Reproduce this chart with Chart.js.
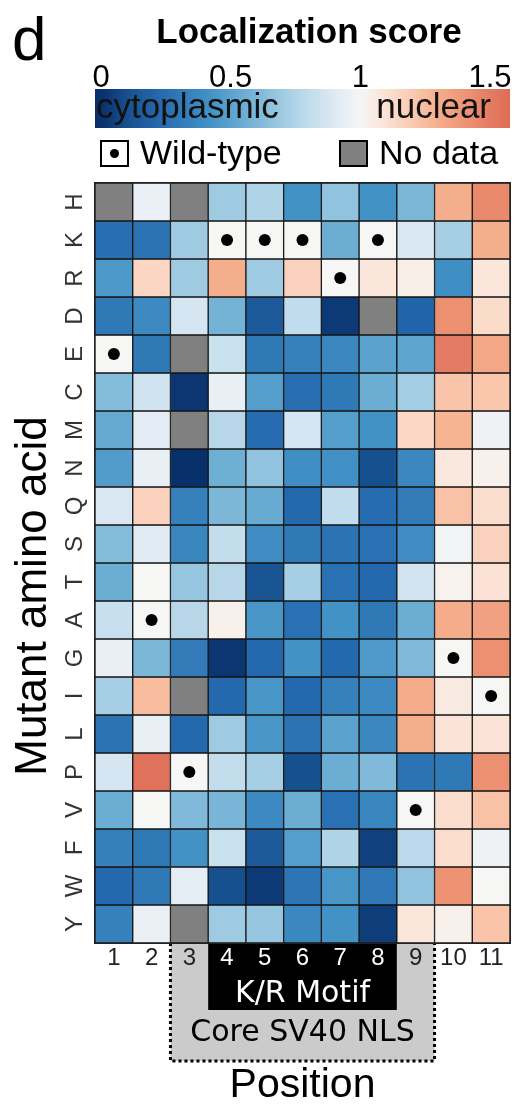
<!DOCTYPE html>
<html lang="en">
<head>
<meta charset="UTF-8">
<title>Localization score</title>
<script src="https://cdn.jsdelivr.net/npm/chart.js"></script>
<style>
  html, body { margin: 0; padding: 0; background: #fff; }
  #wrap { position: relative; width: 516px; height: 1104px; }
</style>
</head>
<body>
<div id="wrap"><canvas id="heatmap"></canvas></div>
<script>
// positions in the NLS and mutant amino acids, top to bottom
const positions = ['1', '2', '3', '4', '5', '6', '7', '8', '9', '10', '11'];
const aminoAcids = ['H', 'K', 'R', 'D', 'E', 'C', 'M', 'N', 'Q', 'S', 'T', 'A', 'G', 'I', 'L', 'P', 'V', 'F', 'W', 'Y'];

// localization score per position (null = no data, wild-type = 1)
const scoreH = [null, 0.95, null, 0.70, 0.75, 0.42, 0.66, 0.42, 0.60, 1.30, 1.45];
const scoreK = [0.25, 0.27, 0.70, 1, 1, 1, 0.55, 1, 0.88, 0.72, 1.30];
const scoreR = [0.45, 1.15, 0.70, 1.30, 0.70, 1.17, 1, 1.08, 1.04, 0.40, 1.08];
const scoreD = [0.30, 0.38, 0.87, 0.58, 0.15, 0.80, 0.03, null, 0.20, 1.42, 1.13];
const scoreE = [1, 0.30, null, 0.83, 0.30, 0.34, 0.37, 0.50, 0.51, 1.50, 1.33];
const scoreC = [0.62, 0.85, 0.02, 0.94, 0.48, 0.25, 0.30, 0.55, 0.71, 1.22, 1.21];
const scoreM = [0.53, 0.92, null, 0.77, 0.24, 0.87, 0.48, 0.42, 1.14, 1.28, 0.97];
const scoreN = [0.47, 0.94, 0.00, 0.56, 0.66, 0.40, 0.41, 0.10, 0.37, 1.07, 1.03];
const scoreQ = [0.88, 1.17, 0.34, 0.60, 0.54, 0.22, 0.80, 0.24, 0.31, 1.23, 1.12];
const scoreS = [0.62, 0.91, 0.36, 0.81, 0.39, 0.30, 0.27, 0.26, 0.39, 0.98, 1.17];
const scoreT = [0.55, 1.00, 0.67, 0.77, 0.12, 0.72, 0.26, 0.22, 0.86, 1.02, 1.10];
const scoreA = [0.82, 1, 0.77, 1.03, 0.44, 0.26, 0.42, 0.30, 0.55, 1.31, 1.35];
const scoreG = [0.94, 0.60, 0.31, 0.02, 0.22, 0.42, 0.22, 0.46, 0.61, 1, 1.42];
const scoreI = [0.72, 1.25, null, 0.22, 0.44, 0.22, 0.34, 0.38, 1.31, 1.06, 1];
const scoreL = [0.27, 0.94, 0.22, 0.70, 0.44, 0.27, 0.50, 0.37, 1.30, 1.09, 1.09];
const scoreP = [0.87, 1.55, 1, 0.81, 0.72, 0.10, 0.55, 0.61, 0.27, 0.30, 1.42];
const scoreV = [0.55, 1.00, 0.61, 0.59, 0.38, 0.55, 0.26, 0.36, 1, 1.12, 1.23];
const scoreF = [0.33, 0.30, 0.42, 0.83, 0.15, 0.48, 0.75, 0.05, 0.78, 1.12, 0.97];
const scoreW = [0.22, 0.30, 0.93, 0.10, 0.03, 0.28, 0.44, 0.29, 0.66, 1.41, 1.00];
const scoreY = [0.34, 0.95, null, 0.70, 0.67, 0.37, 0.42, 0.04, 1.08, 1.03, 1.22];

// wild-type residue at each position
const wildType = ['E', 'A', 'P', 'K', 'K', 'K', 'R', 'K', 'V', 'G', 'I'];
const scoreTicks = [0, 0.5, 1, 1.5];

const scoreRows = [scoreH, scoreK, scoreR, scoreD, scoreE, scoreC, scoreM, scoreN, scoreQ, scoreS,
                   scoreT, scoreA, scoreG, scoreI, scoreL, scoreP, scoreV, scoreF, scoreW, scoreY];

// diverging colour scale, blue (cytoplasmic) -> white (1) -> red (nuclear)
const colorStops = [
  [0.00, '#08306b'], [0.10, '#17508e'], [0.22, '#2468ae'], [0.30, '#3079b7'],
  [0.42, '#4292c6'], [0.55, '#6badd3'], [0.70, '#9fcbe2'], [0.80, '#c1dcec'],
  [0.92, '#e3ecf5'], [1.00, '#f6f6f5'], [1.10, '#fbe2d4'], [1.20, '#facab1'],
  [1.30, '#f5ae8c'], [1.42, '#ec9072'], [1.50, '#e47c63'], [1.60, '#dc6650']
];

function hexRgb(h) {
  return [parseInt(h.slice(1, 3), 16), parseInt(h.slice(3, 5), 16), parseInt(h.slice(5, 7), 16)];
}

function scoreColor(v) {
  if (v === null) return '#808080';
  if (v <= colorStops[0][0]) return colorStops[0][1];
  for (let i = 1; i < colorStops.length; i++) {
    if (v <= colorStops[i][0]) {
      const [v0, c0] = colorStops[i - 1], [v1, c1] = colorStops[i];
      const t = (v - v0) / (v1 - v0);
      const a = hexRgb(c0), b = hexRgb(c1);
      return 'rgb(' + a.map((x, k) => Math.round(x + (b[k] - x) * t)).join(',') + ')';
    }
  }
  return colorStops[colorStops.length - 1][1];
}

const SANS = "'Liberation Sans', Arial, sans-serif";
Chart.defaults.font.family = SANS;

// one floating bar per cell, one dataset per amino acid row
const datasets = aminoAcids.map((aa, r) => ({
  type: 'bar',
  label: aa,
  data: positions.map(() => [r, r + 1]),
  backgroundColor: scoreRows[r].map(scoreColor),
  borderColor: '#151515',
  borderWidth: 1,
  borderSkipped: false,
  grouped: false,
  barPercentage: 1,
  categoryPercentage: 1,
  order: 1
}));

// wild-type dots
datasets.push({
  type: 'line',
  label: 'Wild-type',
  data: wildType.map(aa => aminoAcids.indexOf(aa) + 0.5),
  showLine: false,
  pointRadius: 6,
  pointBackgroundColor: '#000',
  pointBorderWidth: 0,
  order: 0
});

function text(ctx, str, x, y, font, color, align) {
  ctx.font = font;
  ctx.fillStyle = color;
  ctx.textAlign = align || 'left';
  ctx.textBaseline = 'alphabetic';
  ctx.fillText(str, x, y);
}

const decorations = {
  id: 'decorations',
  beforeDraw(chart) {
    const ctx = chart.ctx, x = chart.scales.x, area = chart.chartArea;
    const colW = (area.right - area.left) / positions.length;
    const colLeft = i => x.getPixelForValue(i) - colW / 2;
    ctx.save();
    // core SV40 NLS box (positions 3-9)
    const g0 = colLeft(2), g1 = colLeft(8) + colW;
    ctx.fillStyle = '#cbcbcb';
    ctx.fillRect(g0, area.bottom, g1 - g0, 1061 - area.bottom);
    // K/R motif box (positions 4-8)
    ctx.fillStyle = '#000';
    ctx.fillRect(colLeft(3), area.bottom, colLeft(7) + colW - colLeft(3), 1010 - area.bottom);
    ctx.setLineDash([3, 3]);
    ctx.lineWidth = 3;
    ctx.strokeStyle = '#000';
    ctx.beginPath();
    ctx.moveTo(g0, area.bottom);
    ctx.lineTo(g0, 1061);
    ctx.lineTo(g1, 1061);
    ctx.lineTo(g1, area.bottom);
    ctx.stroke();
    ctx.restore();
  },
  afterDatasetsDraw(chart) {
    // outer frame of the grid
    const ctx = chart.ctx, area = chart.chartArea;
    ctx.save();
    ctx.strokeStyle = '#222';
    ctx.lineWidth = 1;
    ctx.strokeRect(area.left - 0.5, area.top - 0.5, area.right - area.left + 1, area.bottom - area.top + 1);
    ctx.restore();
  },
  afterDraw(chart) {
    const ctx = chart.ctx, y = chart.scales.y, area = chart.chartArea;
    const midX = (area.left + area.right) / 2;
    ctx.save();

    text(ctx, 'd', 12, 60, '62px ' + SANS, '#000');
    text(ctx, 'Localization score', 309, 43, 'bold 35px ' + SANS, '#000', 'center');

    // colour bar
    const vx = v => 101 + 259.3 * v;
    const bx0 = area.left, bx1 = area.right;
    const grad = ctx.createLinearGradient(bx0, 0, bx1, 0);
    for (let i = 0; i <= 60; i++) {
      const t = i / 60;
      const px = bx0 + (bx1 - bx0) * t;
      grad.addColorStop(t, scoreColor((px - 101) / 259.3));
    }
    ctx.fillStyle = grad;
    ctx.fillRect(bx0, 89, bx1 - bx0, 39);
    scoreTicks.forEach(v => text(ctx, String(v), vx(v), 87, '31px ' + SANS, '#000', 'center'));
    text(ctx, 'cytoplasmic', 96, 118, '35px ' + SANS, '#111');
    text(ctx, 'nuclear', 491, 118, '35px ' + SANS, '#111', 'right');

    // legend
    ctx.lineWidth = 2;
    ctx.strokeStyle = '#000';
    ctx.fillStyle = '#fff';
    ctx.fillRect(101, 141, 27, 25);
    ctx.strokeRect(101, 141, 27, 25);
    ctx.fillStyle = '#000';
    ctx.beginPath();
    ctx.arc(114.5, 153.5, 4.5, 0, Math.PI * 2);
    ctx.fill();
    text(ctx, 'Wild-type', 140, 164, '34px ' + SANS, '#000');
    ctx.fillStyle = '#808080';
    ctx.fillRect(340, 141, 27, 25);
    ctx.strokeRect(340, 141, 27, 25);
    text(ctx, 'No data', 379, 164, '34px ' + SANS, '#000');

    // amino acid labels, rotated
    aminoAcids.forEach((aa, r) => {
      ctx.save();
      ctx.translate(82, y.getPixelForValue(r + 0.5));
      ctx.rotate(-Math.PI / 2);
      text(ctx, aa, 0, 0, '24px ' + SANS, '#333', 'center');
      ctx.restore();
    });

    // axis titles
    ctx.save();
    ctx.translate(46, 596);
    ctx.rotate(-Math.PI / 2);
    text(ctx, 'Mutant amino acid', 0, 0, '44px ' + SANS, '#000', 'center');
    ctx.restore();

    text(ctx, 'K/R Motif', midX, 1002, "30px 'DejaVu Sans', sans-serif", '#fff', 'center');
    text(ctx, 'Core SV40 NLS', midX, 1041, "30px 'DejaVu Sans', sans-serif", '#000', 'center');
    text(ctx, 'Position', midX, 1097, '41px ' + SANS, '#000', 'center');
    ctx.restore();
  }
};

new Chart(document.getElementById('heatmap'), {
  type: 'bar',
  data: { labels: positions, datasets: datasets },
  options: {
    responsive: true,
    maintainAspectRatio: false,
    animation: false,
    layout: { padding: { top: 183, left: 95, right: 3, bottom: 121 } },
    plugins: { legend: { display: false }, tooltip: { enabled: false } },
    scales: {
      x: {
        type: 'category',
        offset: true,
        grid: { display: false, drawTicks: false },
        border: { display: false },
        ticks: {
          autoSkip: false,
          maxRotation: 0,
          padding: 1,
          font: { size: 24 },
          color: c => (c.index >= 3 && c.index <= 7 ? '#fff' : '#222')
        },
        afterFit: s => { s.height = 40; }
      },
      y: { type: 'linear', min: 0, max: 20, reverse: true, display: false }
    }
  },
  plugins: [decorations]
});
</script>
</body>
</html>
